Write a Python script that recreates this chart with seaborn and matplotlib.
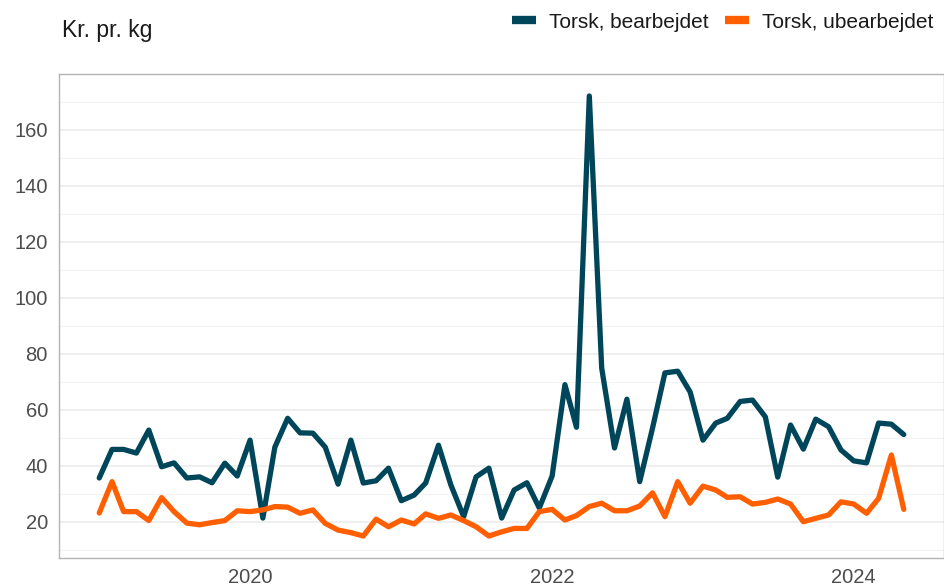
import numpy as np
import pandas as pd
import matplotlib
matplotlib.use("Agg")
import matplotlib.pyplot as plt
import matplotlib.dates as mdates
from matplotlib.ticker import MultipleLocator
from matplotlib.lines import Line2D
import seaborn as sns

dates = pd.date_range("2019-01-01", "2024-05-01", freq="MS")

bearbejdet = [35.7, 45.9, 45.9, 44.6, 52.8, 39.7, 41.1, 35.7, 36.1, 34.0, 41.0, 36.4,
              49.2, 21.4, 46.7, 57.0, 51.8, 51.7, 46.7, 33.5, 49.2, 33.9, 34.7, 39.2,
              27.6, 29.6, 33.9, 47.4, 33.2, 21.9, 36.1, 39.2, 21.4, 31.4, 34.0, 25.0,
              36.4, 69.0, 53.8, 172.0, 74.9, 46.4, 63.8, 34.4, 53.5, 73.2, 73.8, 66.4,
              49.2, 55.3, 57.0, 63.0, 63.5, 57.5, 36.0, 54.6, 46.0, 56.7, 54.0, 45.7,
              41.8, 41.1, 55.3, 54.9, 51.2]
ubearbejdet = [23.2, 34.4, 23.7, 23.7, 20.5, 28.7, 23.7, 19.6, 19.0, 19.8, 20.5, 24.0,
               23.7, 24.3, 25.5, 25.3, 23.1, 24.3, 19.5, 17.1, 16.2, 15.0, 21.0, 18.3,
               20.7, 19.3, 22.9, 21.3, 22.5, 20.5, 18.3, 15.0, 16.5, 17.7, 17.7, 23.7,
               24.5, 20.7, 22.3, 25.5, 26.7, 24.0, 24.0, 25.7, 30.4, 21.9, 34.4, 26.7,
               32.8, 31.4, 28.8, 29.0, 26.4, 27.0, 28.2, 26.4, 20.1, 21.3, 22.5, 27.2,
               26.4, 23.1, 28.4, 43.9, 24.5]
series_names = ["Torsk, bearbejdet", "Torsk, ubearbejdet"]
colors = ["#00465a", "#ff5f00"]

df = pd.DataFrame({
    "date": list(dates) * 2,
    "value": bearbejdet + ubearbejdet,
    "series": [series_names[0]] * len(dates) + [series_names[1]] * len(dates),
})

sns.set_style("white")
plt.rcParams["font.family"] = ["Liberation Sans", "DejaVu Sans"]

fig = plt.figure(figsize=(9.44, 5.88), dpi=100)
ax = fig.add_axes([59 / 944, 1 - 558 / 588, (944 - 59) / 944, (558 - 74) / 588])

sns.lineplot(data=df, x="date", y="value", hue="series", palette=colors,
             linewidth=3.8, ax=ax, legend=False)

span = dates[-1] - dates[0]
ax.set_xlim(dates[0] - span * 0.05, dates[-1] + span * 0.05)
vmin = min(min(bearbejdet), min(ubearbejdet))
vmax = max(max(bearbejdet), max(ubearbejdet))
pad = (vmax - vmin) * 0.05
ax.set_ylim(vmin - pad, vmax + pad)

ax.yaxis.set_major_locator(MultipleLocator(20))
ax.yaxis.set_minor_locator(MultipleLocator(10))
ax.xaxis.set_major_locator(mdates.YearLocator(2))
ax.xaxis.set_major_formatter(mdates.DateFormatter("%Y"))
ax.grid(True, axis="y", which="major", color="#ebebeb", linewidth=1.1)
ax.grid(True, axis="y", which="minor", color="#f3f3f3", linewidth=0.8)
ax.grid(False, axis="x")
ax.set_axisbelow(True)

for s in ["left", "top", "bottom", "right"]:
    ax.spines[s].set_color("#b3b3b3")
    ax.spines[s].set_linewidth(1.0)

ax.tick_params(axis="both", which="both", length=0, labelsize=14.5, labelcolor="#4d4d4d")
ax.tick_params(axis="y", pad=8)
ax.tick_params(axis="x", pad=7)
ax.set_xlabel("")
ax.set_ylabel("")

fig.text(62 / 944, 1 - 31 / 588, "Kr. pr. kg", fontsize=16.5, color="#1a1a1a", va="center", ha="left")

handles = [Line2D([0], [0], color=c, linewidth=6, solid_capstyle="butt") for c in colors]
fig.legend(handles, series_names, loc="center right", bbox_to_anchor=(933 / 944, 1 - 22 / 588),
           ncol=2, frameon=False, fontsize=15, handlelength=1.15, handletextpad=0.63,
           columnspacing=0.77, labelcolor="#1a1a1a", borderpad=0, borderaxespad=0)

fig.savefig("out.png", dpi=100)
